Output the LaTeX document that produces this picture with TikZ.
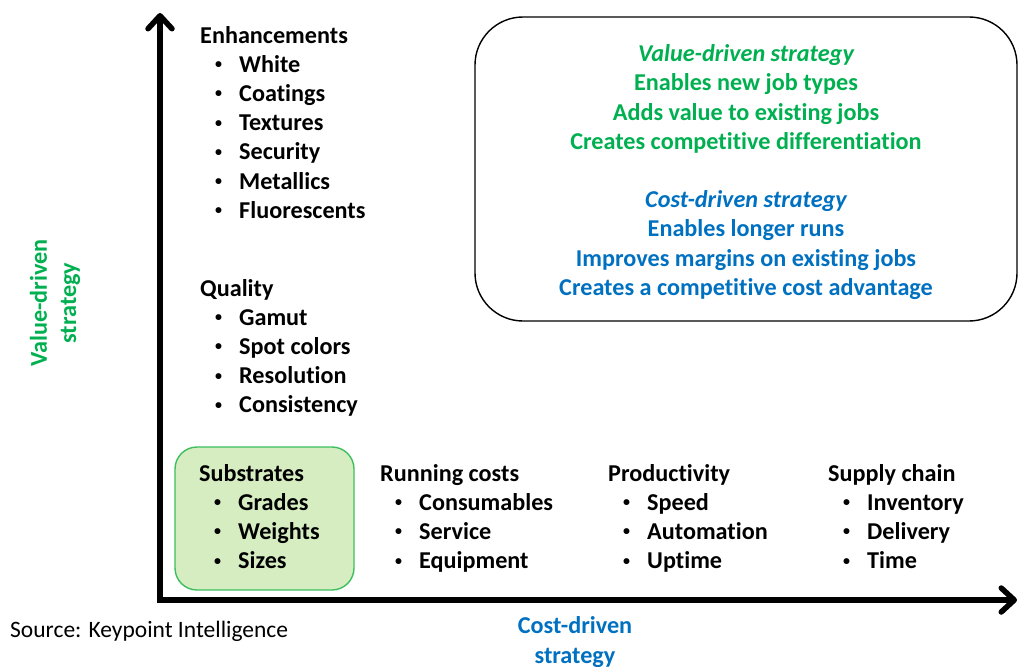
\documentclass[tikz,border=0pt]{standalone}
\usepackage{fontspec}
\setmainfont{Carlito}[Ligatures={NoCommon}]
\usetikzlibrary{arrows.meta}
\definecolor{valgreen}{HTML}{00B050}
\definecolor{costblue}{HTML}{0070C0}
\definecolor{subfill}{HTML}{D5EDC0}
\definecolor{subedge}{HTML}{3CBF5E}
% one bulleted entry of a list
\newcommand{\bul}[1]{\hspace*{15pt}\makebox[24pt][l]{\raisebox{3.6pt}{\fontsize{14}{14}\selectfont •}}#1}
\begin{document}
\begin{tikzpicture}[x=1pt,y=-1pt,
  listtxt/.style={font=\fontsize{24.2}{29.2}\selectfont\bfseries, inner sep=0pt,
    align=left, anchor=base west},
  axisline/.style={line width=5.5pt,
    {Straight Barb[length=13pt,width=24pt,round]}-{Straight Barb[length=13pt,width=24pt,round]}},
  stratbox/.style={draw, line width=1.4pt, rounded corners=48pt,
    minimum width=542pt, minimum height=304pt},
  subbox/.style={draw=subedge, fill=subfill, line width=1.4pt, rounded corners=22pt,
    minimum width=179pt, minimum height=143pt}]
\useasboundingbox (0,0) rectangle (1019,666);

% axes
\coordinate (ytip) at (160,13);
\coordinate (origin) at (160,600);
\coordinate (xtip) at (1017,600);
\draw[axisline] (ytip) -- (origin) -- (xtip);

% highlighted substrates group
\node[subbox] (subframe) at (264.5,518.5) {};

% value-driven items (anchored on the baseline of the last line)
\node[listtxt] (enh) at (200,218.2) {Enhancements\\ \bul{White}\\ \bul{Coatings}\\ \bul{Textures}\\
  \bul{Security}\\ \bul{Metallics}\\ \bul{Fluorescents}};
\node[listtxt] (qual) at (200,412.8) {Quality\\ \bul{Gamut}\\ \bul{Spot colors}\\ \bul{Resolution}\\
  \bul{Consistency}};

% cost-driven items
\node[listtxt] (subs) at (199,568.6) {Substrates\\ \bul{Grades}\\ \bul{Weights}\\ \bul{Sizes}};
\node[listtxt] (run) at (380,568.6) {Running costs\\ \bul{Consumables}\\ \bul{Service}\\ \bul{Equipment}};
\node[listtxt] (prod) at (608,568.6) {Productivity\\ \bul{Speed}\\ \bul{Automation}\\ \bul{Uptime}};
\node[listtxt] (supp) at (828,568.6) {Supply chain\\ \bul{Inventory}\\ \bul{Delivery}\\ \bul{Time}};

% strategy summary
\node[stratbox] (strat) at (746,169) {};
\node[align=center, inner sep=0pt, font=\fontsize{24.2}{29.2}\selectfont\bfseries] (strattext) at (746,172) {%
  \textcolor{valgreen}{\itshape Value-driven strategy}\\
  \textcolor{valgreen}{Enables new job types}\\
  \textcolor{valgreen}{Adds value to existing jobs}\\
  \textcolor{valgreen}{Creates competitive differentiation}\\[29.2pt]
  \textcolor{costblue}{\itshape Cost-driven strategy}\\
  \textcolor{costblue}{Enables longer runs}\\
  \textcolor{costblue}{Improves margins on existing jobs}\\
  \textcolor{costblue}{Creates a competitive cost advantage}};

% axis labels
\node[rotate=90, text=valgreen, align=center, inner sep=0pt,
  font=\fontsize{24.2}{29.2}\selectfont\bfseries] (ylabel) at (55,303) {Value-driven\\strategy};
\node[text=costblue, align=center, inner sep=0pt,
  font=\fontsize{24.2}{29.2}\selectfont\bfseries] (xlabel) at (575,642) {Cost-driven\\strategy};

% source line
\node[anchor=base west, inner sep=0pt, font=\fontsize{23.5}{28}\selectfont] (src) at (10,637)
  {Source: Keypoint Intelligence};
\end{tikzpicture}
\end{document}
